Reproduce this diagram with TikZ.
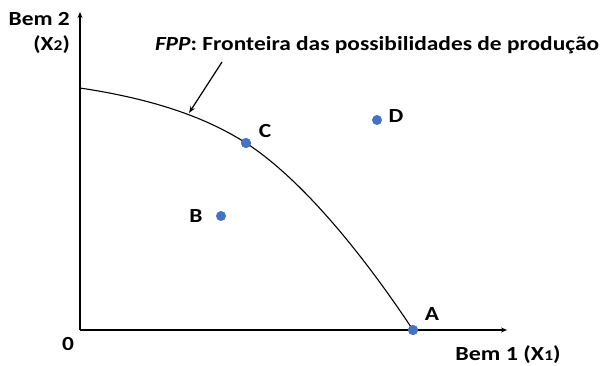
\documentclass[tikz,border=0pt]{standalone}
\usepackage{fontspec}
\usepackage{graphicx}
\setmainfont{Carlito}
\usetikzlibrary{arrows.meta}
\definecolor{dotblue}{HTML}{4472C4}
\newcommand{\wide}[1]{\scalebox{1.17}[1]{#1}}
\begin{document}
\begin{tikzpicture}[x=1pt,y=-1pt,
  lbl/.style={font=\bfseries\fontsize{20}{24}\selectfont, inner sep=0pt},
  pt/.style={circle, fill=dotblue, minimum size=10pt, inner sep=0pt},
  axis/.style={line width=1.6pt, -{Stealth[length=6pt,width=5pt]}},
  curve/.style={line width=1.1pt}]
\useasboundingbox (0,0) rectangle (609,365);
\coordinate (O) at (80,330);
\coordinate (ytop) at (80,12);
\coordinate (xend) at (507,330);
\draw[axis] (O) -- (ytop);
\draw[axis] (O) -- (xend);
\node[lbl, anchor=east] (bem2) at (70,19) {\wide{Bem 2}};
\node[lbl, anchor=east] (x2) at (70,45) {\wide{(X{\fontsize{15}{17}\selectfont 2})}};
\node[lbl] (zero) at (68,344) {\wide{0}};
\node[lbl] (bem1) at (508,355) {\scalebox{1.2}[1]{Bem 1 (X{\fontsize{15}{17}\selectfont 1})}};
\node[lbl] (fpp) at (377,45) {\wide{\textit{FPP}: Fronteira das possibilidades de produção}};
\coordinate (start) at (80,88);
\node[pt] (C) at (246,143) {};
\node[pt] (A) at (413,330) {};
\node[pt] (B) at (221,216) {};
\node[pt] (D) at (377,120) {};
\draw[curve] (start) .. controls (160,100) and (210,120) .. (C.center)
  .. controls (300,178) and (360,250) .. (A.center);
\node[pt] at (C) {};
\node[pt] at (A) {};
\node[lbl] (Cl) at (265,131) {\wide{C}};
\node[lbl] (Dl) at (396,116) {\wide{D}};
\node[lbl] (Bl) at (196,216) {\wide{B}};
\node[lbl] (Al) at (432,314) {\wide{A}};
\coordinate (arrs) at (222,62);
\coordinate (arre) at (189,113);
\draw[line width=1.2pt, -{Stealth[length=7pt,width=5pt]}] (arrs) -- (arre);
\end{tikzpicture}
\end{document}
